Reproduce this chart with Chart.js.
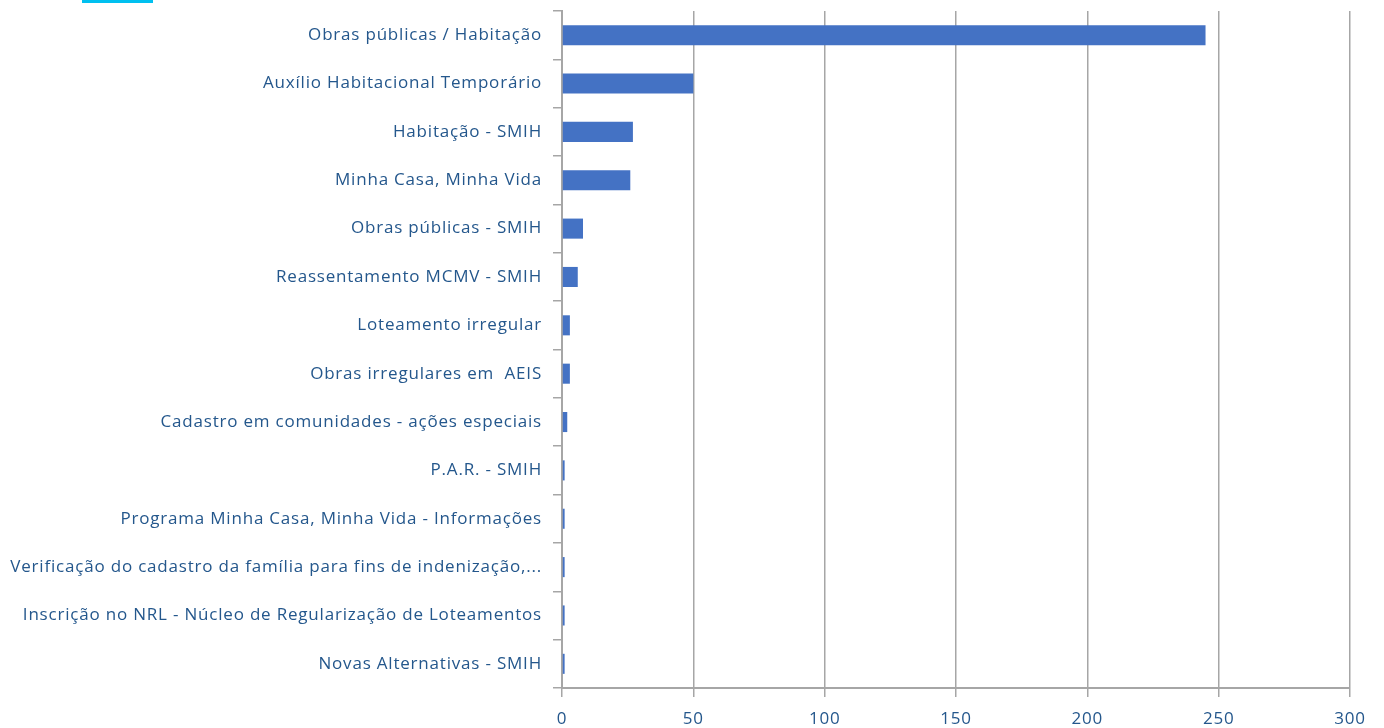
<!DOCTYPE html>
<html>
<head>
<meta charset="utf-8">
<script src="https://cdn.jsdelivr.net/npm/chart.js@4.4.1/dist/chart.umd.min.js"></script>
<style>
  html, body { margin: 0; padding: 0; background: #fff; }
  #wrap { position: relative; width: 1384px; height: 728px; }
  #strip { position: absolute; left: 82px; top: 0; width: 71px; height: 3px; background: #00c0f0; }
</style>
</head>
<body>
<div id="wrap">
  <canvas id="chart" width="1384" height="728"></canvas>
  <div id="strip"></div>
</div>
<script>
// categories (top to bottom)
const categories = [
  'Obras públicas / Habitação',
  'Auxílio Habitacional Temporário',
  'Habitação - SMIH',
  'Minha Casa, Minha Vida',
  'Obras públicas - SMIH',
  'Reassentamento MCMV - SMIH',
  'Loteamento irregular',
  'Obras irregulares em  AEIS',
  'Cadastro em comunidades - ações especiais',
  'P.A.R. - SMIH',
  'Programa Minha Casa, Minha Vida - Informações',
  'Verificação do cadastro da família para fins de indenização,...',
  'Inscrição no NRL - Núcleo de Regularização de Loteamentos',
  'Novas Alternativas - SMIH'
];
const counts = [245, 50, 27, 26, 8, 6, 3, 3, 2, 1, 1, 1, 1, 1];
const xTicks = [0, 50, 100, 150, 200, 250, 300];

const textColor = '#24578c';
const lineColor = '#a6a6a6';

// the labels in the original are spaced a bit wider than canvas text
const spacing = {
  id: 'spacing',
  beforeDraw: (chart) => { chart.ctx.letterSpacing = '0.8px'; }
};

const ctx = document.getElementById('chart').getContext('2d');
new Chart(ctx, {
  type: 'bar',
  data: {
    labels: categories,
    datasets: [{
      data: counts,
      backgroundColor: '#4472c4',
      borderWidth: 0,
      categoryPercentage: 0.83,
      barPercentage: 0.5
    }]
  },
  plugins: [spacing],
  options: {
    indexAxis: 'y',
    responsive: false,
    animation: false,
    layout: { padding: { top: 11, right: 34, bottom: 0, left: 0 } },
    plugins: { legend: { display: false }, tooltip: { enabled: false } },
    scales: {
      x: {
        min: 0,
        max: 300,
        afterBuildTicks: (scale) => { scale.ticks = xTicks.map(v => ({ value: v })); },
        afterFit: (scale) => { scale.height = 40; },
        grid: { color: lineColor, lineWidth: 1.5, tickLength: 9 },
        border: { color: lineColor, width: 2 },
        ticks: { color: textColor, font: { family: 'Open Sans', size: 17 }, padding: 12 }
      },
      y: {
        afterFit: (scale) => {
          scale.width = 562;
          scale.paddingTop = 0;
          scale.paddingBottom = 0;
        },
        grid: { drawOnChartArea: false, color: lineColor, lineWidth: 1.5, tickLength: 9 },
        border: { color: lineColor, width: 2 },
        ticks: { color: textColor, font: { family: 'Open Sans', size: 17 }, padding: 11, autoSkip: false }
      }
    }
  }
});
</script>
</body>
</html>
